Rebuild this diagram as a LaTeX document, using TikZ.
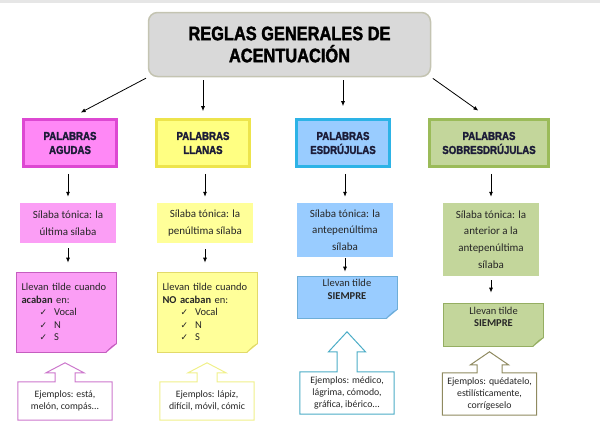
\documentclass[tikz,border=0pt]{standalone}
\usepackage{fontspec}
\setmainfont{Carlito}
\newfontfamily\headfont[FakeStretch=0.84, BoldFeatures={FakeBold=1.8}]{Liberation Sans}
\newfontfamily\symfont{DejaVu Sans}
\usepackage{tikz}
\usetikzlibrary{positioning, arrows.meta, calc}

\definecolor{titlegray}{HTML}{D9D9D9}
\definecolor{titleline}{HTML}{C4C4B2}
\definecolor{stripgray}{HTML}{E6E6E6}
\definecolor{navytext}{HTML}{1C1C38}
\definecolor{bodytext}{HTML}{262626}
\definecolor{agline}{HTML}{DD48D2}
\definecolor{agfill}{HTML}{FF88F6}
\definecolor{agsoft}{HTML}{FB9EF5}
\definecolor{agnote}{HTML}{C55EBF}
\definecolor{agcall}{HTML}{CC77CC}
\definecolor{llline}{HTML}{EDE44C}
\definecolor{llfill}{HTML}{FFFF82}
\definecolor{llsoft}{HTML}{FFFF99}
\definecolor{llnote}{HTML}{E2DA6A}
\definecolor{llcall}{HTML}{F0F08A}
\definecolor{esline}{HTML}{2DB3E6}
\definecolor{esfill}{HTML}{99CCFF}
\definecolor{esnote}{HTML}{6EAED8}
\definecolor{escall}{HTML}{4BACC6}
\definecolor{soline}{HTML}{9BBB59}
\definecolor{sofill}{HTML}{C3D69B}
\definecolor{sonote}{HTML}{95AE62}
\definecolor{socall}{HTML}{8F8A60}

\newcommand{\chk}{{\symfont\small ✓}}
\newcommand{\fold}[3]{%
  \fill[white] ($(#1.south east)+(-11,1)$) -- ($(#1.south east)+(1,1)$) -- ($(#1.south east)+(1,-9)$) -- cycle;
  \filldraw[fill=#2!82!black, draw=#3, line width=0.6pt] ($(#1.south east)+(-11,0)$) -- ($(#1.south east)+(0,-9)$)
    .. controls ($(#1.south east)+(-5,-6)$) .. ($(#1.south east)+(-8,-3)$) -- cycle;}
\newcommand{\upcall}[6]{%
  \draw[#2, line width=1pt] (#1.north west) -- ($(#1.north)+(-#3,0)$) -- ($(#1.north)+(-#3,-#4)$)
    -- ($(#1.north)+(-#5,-#4)$) -- ($(#1.north)+(0,-#4-#6)$) -- ($(#1.north)+(#5,-#4)$)
    -- ($(#1.north)+(#3,-#4)$) -- ($(#1.north)+(#3,0)$) -- (#1.north east) -- (#1.south east)
    -- (#1.south west) -- cycle;}

\begin{document}
\begin{tikzpicture}[x=1pt, y=-1pt,
  arr/.style={-{Latex[length=5pt,width=4pt]}, line width=0.8pt},
  catbox/.style={draw=#1, line width=2.6pt, minimum width=93pt, minimum height=47pt, inner sep=0pt,
    align=center, text=navytext, font=\headfont\bfseries\fontsize{11.5}{14}\selectfont},
  silbox/.style={fill=#1, minimum width=96pt, inner sep=0pt, align=center, text=bodytext,
    font=\fontsize{11}{16.6}\selectfont},
  notebox/.style={draw=#1, line width=0.6pt, minimum width=100pt, inner sep=0pt, text=bodytext,
    font=\fontsize{10.5}{12.6}\selectfont},
  callbox/.style={fill=white, minimum width=94pt, inner sep=0pt, align=center, text=bodytext,
    font=\fontsize{9.8}{12.4}\selectfont}]
\useasboundingbox (0,0) rectangle (600,431);
\fill[stripgray] (0,0) rectangle (600,2.5);

\node[draw=titleline, line width=1.5pt, fill=titlegray, rounded corners=9pt, minimum width=282pt,
  minimum height=64pt, align=center, font=\headfont\bfseries\fontsize{19.5}{22}\selectfont]
  (title) at (289.5,44.5) {REGLAS GENERALES DE\\ACENTUACIÓN};

\node[catbox=agline, fill=agfill] (agudas) at (70,143) {PALABRAS\\AGUDAS};
\node[catbox=llline, fill=llfill] (llanas) at (203,143) {PALABRAS\\LLANAS};
\node[catbox=esline, fill=esfill] (esdr) at (343,143) {PALABRAS\\ESDRÚJULAS};
\node[catbox=soline, fill=sofill, minimum width=119pt] (sobr) at (489,143) {PALABRAS\\SOBRESDRÚJULAS};

\node[silbox=agsoft, minimum height=40pt] (agsil) at (68,223) {Sílaba tónica: la\\última sílaba};
\node[silbox=llsoft, minimum height=40pt] (llsil) at (205,223) {Sílaba tónica: la\\penúltima sílaba};
\node[silbox=esfill, minimum height=54pt] (essil) at (345,230) {Sílaba tónica: la\\antepenúltima\\sílaba};
\node[silbox=sofill, minimum height=73pt] (sosil) at (491,239.5) {Sílaba tónica: la\\anterior a la\\antepenúltima\\sílaba};

\node[notebox=agnote, fill=agsoft, minimum height=80pt, text width=90pt, align=left] (agnota) at (66.5,312)
  {Llevan tilde cuando\\\textbf{acaban} en:\\\hspace*{18pt}\chk\ \ Vocal\\\hspace*{18pt}\chk\ \ N\\\hspace*{18pt}\chk\ \ S\\[4pt]};
\node[notebox=llnote, fill=llsoft, minimum height=80pt, text width=90pt, align=left] (llnota) at (207.5,312)
  {Llevan tilde cuando\\\textbf{NO acaban} en:\\\hspace*{18pt}\chk\ \ Vocal\\\hspace*{18pt}\chk\ \ N\\\hspace*{18pt}\chk\ \ S\\[4pt]};
\node[notebox=esnote, fill=esfill, minimum height=42pt, align=center] (esnota) at (347,297)
  {Llevan tilde\\\textbf{SIEMPRE}\\[3pt]};
\node[notebox=sonote, fill=sofill, minimum height=43pt, align=center] (sonota) at (493.5,324.5)
  {Llevan tilde\\\textbf{SIEMPRE}\\[3pt]};
\fold{agnota}{agsoft}{agnote}
\fold{llnota}{llsoft}{llnote}
\fold{esnota}{esfill}{esnote}
\fold{sonota}{sofill}{sonote}

\node[callbox, minimum height=38pt] (agej) at (65,401) {Ejemplos: está,\\melón, compás...};
\node[callbox, minimum height=38pt] (llej) at (207,401) {Ejemplos: lápiz,\\difícil, móvil, cómic};
\node[callbox, minimum height=42pt] (esej) at (347,393) {Ejemplos: médico,\\lágrima, cómodo,\\gráfica, ibérico...};
\node[callbox, minimum height=42pt] (soej) at (489.5,394) {Ejemplos: quédatelo,\\estilísticamente,\\corrígeselo};
\upcall{agej}{agcall}{10}{9}{19}{10}
\upcall{llej}{llcall}{10}{9}{19}{10}
\upcall{esej}{escall}{10}{20}{18.5}{20}
\upcall{soej}{socall}{12.5}{8}{19}{13}

\draw[arr, shorten <=2pt, shorten >=12pt] (title.south west) -- (agudas.north);
\draw[arr, shorten <=3pt, shorten >=7pt] (title.south -| llanas.north) -- (llanas.north);
\draw[arr, shorten <=3pt, shorten >=12pt] (title.south -| esdr.north) -- (esdr.north);
\draw[arr, shorten <=2pt, shorten >=13pt] (title.south east) -- (sobr.north);

\draw[arr, shorten <=6pt, shorten >=6pt] (agsil.north |- agudas.south) -- (agsil.north);
\draw[arr, shorten <=6pt, shorten >=6pt] (llsil.north |- llanas.south) -- (llsil.north);
\draw[arr, shorten <=6pt, shorten >=6pt] (essil.north |- esdr.south) -- (essil.north);
\draw[arr, shorten <=6pt, shorten >=6pt] (sosil.north |- sobr.south) -- (sosil.north);

\draw[arr, shorten <=5pt, shorten >=9pt] (agsil.south) -- (agsil.south |- agnota.north);
\draw[arr, shorten <=6pt, shorten >=9pt] (llsil.south) -- (llsil.south |- llnota.north);
\draw[arr, shorten <=1pt, shorten >=4pt] (essil.south) -- (essil.south |- esnota.north);
\draw[arr, shorten <=4pt, shorten >=10pt] (sosil.south) -- (sosil.south |- sonota.north);
\end{tikzpicture}
\end{document}
